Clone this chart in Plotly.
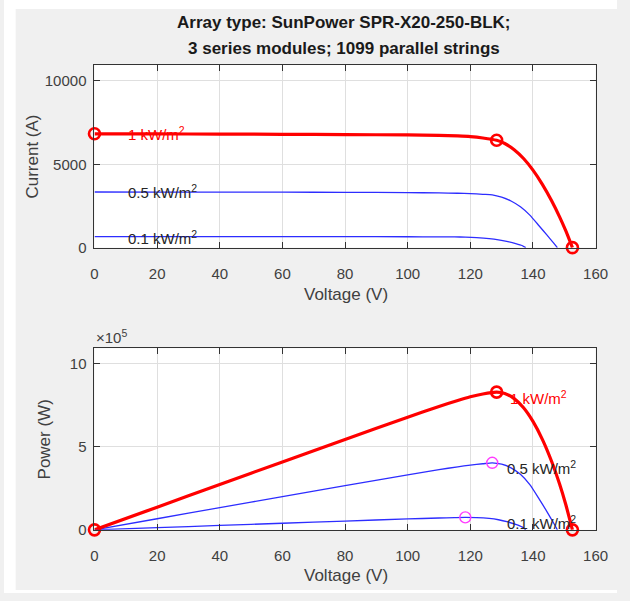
import numpy as np
import plotly.graph_objects as go

# ---------------- data ----------------
V_1000 = [0, 20, 40, 60, 80, 100, 110, 116, 120, 124, 128.4, 131, 134, 137, 140, 143, 146, 148.5, 150.5, 152.6]
I_1000 = [6830, 6822, 6812, 6800, 6785, 6760, 6735, 6700, 6660, 6580, 6440, 6250, 5880, 5350, 4650, 3800, 2800, 1850, 1000, 0]

V_500 = [0, 20, 40, 60, 80, 100, 110, 116, 120, 124, 127, 130, 133, 136, 139, 142, 144.5, 146.5, 147.8]
I_500 = [3340, 3336, 3332, 3326, 3318, 3302, 3285, 3265, 3240, 3200, 3170, 3030, 2800, 2450, 1950, 1300, 750, 300, 0]

V_100 = [0, 20, 40, 60, 80, 100, 110, 115, 118.4, 122, 126, 129, 132, 134.5, 136.5, 137.7]
I_100 = [665, 664, 663, 662, 660, 655, 648, 641, 633, 605, 545, 470, 360, 245, 130, 0]

labels = ["1 kW/m<sup>2</sup>", "0.5 kW/m<sup>2</sup>", "0.1 kW/m<sup>2</sup>"]
x_ticks = [0, 20, 40, 60, 80, 100, 120, 140, 160]
i_ticks = [0, 5000, 10000]
i_tick_text = ["0", "5000", "10000"]
p_ticks = [0, 5e5, 10e5]
p_tick_text = ["0", "5", "10"]

title_1 = "Array type: SunPower SPR-X20-250-BLK;"
title_2 = "3 series modules; 1099 parallel strings"

# ---------------- derived ----------------
def power(v, i):
    return [a * b for a, b in zip(v, i)]

P_1000 = power(V_1000, I_1000)
P_500 = power(V_500, I_500)
P_100 = power(V_100, I_100)

W, H = 630, 601
def px_x(p):
    return p / W
def px_y(p):
    return 1 - p / H

RED = "rgb(255,0,0)"
BLUE = "rgb(45,45,255)"
MAG = "rgb(255,60,255)"
TXT = "#404040"
FONT = "Liberation Sans, Arial, sans-serif"

fig = go.Figure()

def line(x, y, color, width, xa, ya):
    fig.add_trace(go.Scatter(x=x, y=y, mode="lines", xaxis=xa, yaxis=ya,
                             line=dict(color=color, width=width, shape="spline", smoothing=0.6),
                             hoverinfo="skip", showlegend=False, cliponaxis=False))

def marks(x, y, color, lw, xa, ya):
    fig.add_trace(go.Scatter(x=x, y=y, mode="markers", xaxis=xa, yaxis=ya,
                             marker=dict(symbol="circle-open", size=11, color=color,
                                         line=dict(color=color, width=lw)),
                             hoverinfo="skip", showlegend=False, cliponaxis=False))

# top: I-V
line(V_500, I_500, BLUE, 1.3, "x", "y")
line(V_100, I_100, BLUE, 1.3, "x", "y")
line(V_1000, I_1000, RED, 3.2, "x", "y")
k1 = int(np.argmax(P_1000))
marks([V_1000[0], V_1000[k1], V_1000[-1]], [I_1000[0], I_1000[k1], I_1000[-1]], RED, 2.6, "x", "y")

# bottom: P-V
line(V_500, P_500, BLUE, 1.3, "x2", "y2")
line(V_100, P_100, BLUE, 1.3, "x2", "y2")
line(V_1000, P_1000, RED, 3.2, "x2", "y2")
k5 = int(np.argmax(P_500))
k01 = int(np.argmax(P_100))
marks([V_500[k5], V_100[k01]], [P_500[k5], P_100[k01]], MAG, 1.4, "x2", "y2")
marks([V_1000[0], V_1000[k1], V_1000[-1]], [P_1000[0], P_1000[k1], P_1000[-1]], RED, 2.6, "x2", "y2")

ax_common = dict(showline=True, linecolor="#333333", linewidth=1, mirror="ticks",
                 ticks="inside", ticklen=6, tickcolor="#333333", tickwidth=1,
                 showgrid=True, gridcolor="#dfdfdf", gridwidth=1, zeroline=False,
                 tickfont=dict(family=FONT, size=15, color=TXT))

fig.update_layout(
    width=W, height=H,
    margin=dict(l=0, r=0, t=0, b=0),
    paper_bgcolor="#f0f0f0", plot_bgcolor="white",
    showlegend=False,
    xaxis=dict(domain=[px_x(93), px_x(608)], range=[0, 160], tickvals=x_ticks,
               anchor="y", ticklabelstandoff=12, **ax_common),
    yaxis=dict(domain=[px_y(251), px_y(66)], range=[0, 10950], tickvals=i_ticks,
               ticktext=i_tick_text, anchor="x", ticklabelstandoff=4, **ax_common),
    xaxis2=dict(domain=[px_x(93), px_x(608)], range=[0, 160], tickvals=x_ticks,
                anchor="y2", ticklabelstandoff=12, **ax_common),
    yaxis2=dict(domain=[px_y(537), px_y(353)], range=[0, 10.9e5], tickvals=p_ticks,
                ticktext=p_tick_text, anchor="x2", ticklabelstandoff=4, **ax_common),
)

ann = []
def pann(text, x, y, size, color=TXT, bold=False, angle=0, xanchor="center"):
    ann.append(dict(text=("<b>%s</b>" % text) if bold else text, x=px_x(x), y=px_y(y),
                    xref="paper", yref="paper", showarrow=False, textangle=angle,
                    xanchor=xanchor, yanchor="middle",
                    font=dict(family=FONT, size=size, color=color)))

pann(title_1, 349, 23, 17, color="#1a1a1a", bold=True)
pann(title_2, 349, 49, 17, color="#1a1a1a", bold=True)
pann("Voltage (V)", 351, 298, 17)
pann("Voltage (V)", 351, 583, 17)
pann("Current (A)", 29.5, 159, 17, angle=-90)
pann("Power (W)", 41.5, 445, 17, angle=-90)
pann("\u00d710<sup>5</sup>", 92, 341, 15, xanchor="left")

def dann(text, x, y, color, xa, ya):
    ann.append(dict(text=text, x=x, y=y, xref=xa, yref=ya, showarrow=False,
                    xanchor="left", yanchor="middle",
                    font=dict(family=FONT, size=15, color=color)))

dann(labels[0], 10.2, 6850, RED, "x", "y")
dann(labels[1], 10.1, 3375, "#262626", "x", "y")
dann(labels[2], 10.1, 620, "#262626", "x", "y")
dann(labels[0], 132.1, 7.97e5, RED, "x2", "y2")
dann(labels[1], 131.2, 3.75e5, "#262626", "x2", "y2")
dann(labels[2], 131.2, 0.47e5, "#262626", "x2", "y2")

fig.update_layout(annotations=ann)

# white border strips of the original screenshot
for x0, x1, y0, y1 in [(0, 12, 0, H), (0, W, 0, 9), (0, W, 598, H)]:
    fig.add_shape(type="rect", xref="paper", yref="paper",
                  x0=px_x(x0), x1=px_x(x1), y0=px_y(y1), y1=px_y(y0),
                  fillcolor="white", line=dict(width=0), layer="above")

fig.write_html("out.html")
